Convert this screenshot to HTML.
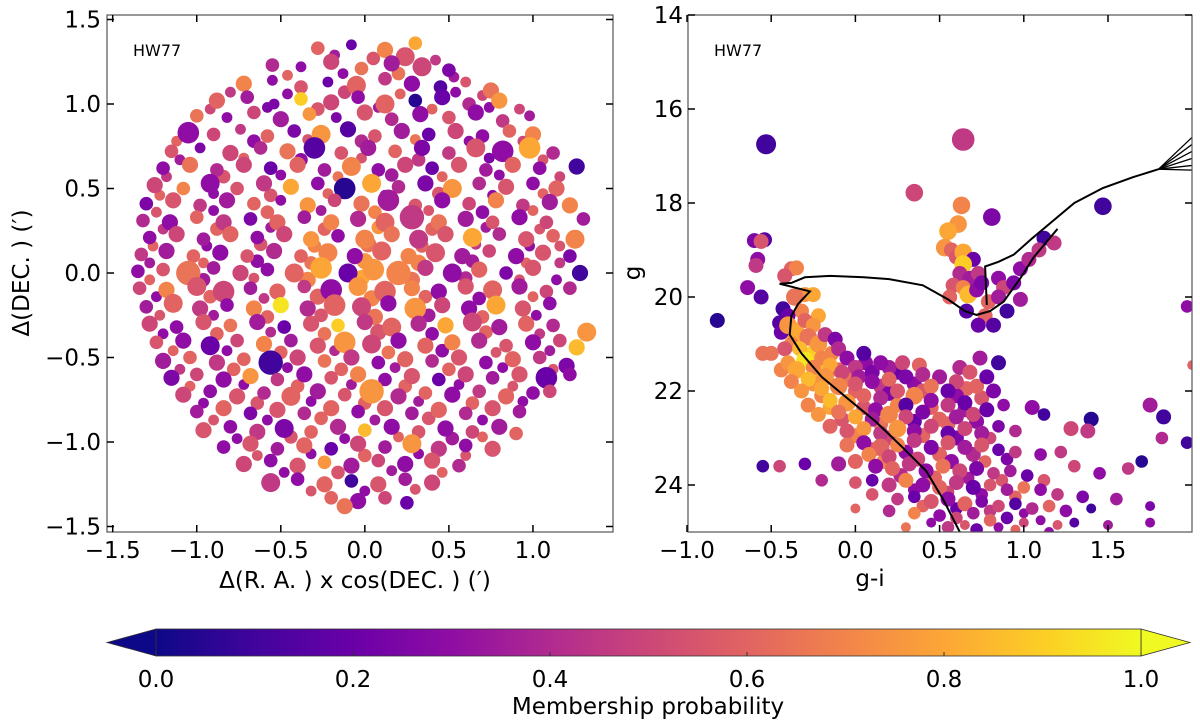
<!DOCTYPE html>
<html><head><meta charset="utf-8">
<style>
html,body{margin:0;padding:0;background:#fff;}
svg{display:block;font-family:"DejaVu Sans","Liberation Sans",sans-serif;}
</style></head>
<body>
<svg id="fig" width="1200" height="723" viewBox="0 0 1200 723" xmlns="http://www.w3.org/2000/svg">
<defs>
<linearGradient id="plasmaGrad" x1="0" x2="1" y1="0" y2="0">
<stop offset="0" stop-color="#0d0887"/><stop offset="0.1" stop-color="#41049d"/><stop offset="0.2" stop-color="#6a00a8"/><stop offset="0.3" stop-color="#8f0da4"/><stop offset="0.4" stop-color="#b12a90"/><stop offset="0.5" stop-color="#cc4778"/><stop offset="0.6" stop-color="#e16462"/><stop offset="0.7" stop-color="#f2844b"/><stop offset="0.8" stop-color="#fca636"/><stop offset="0.9" stop-color="#fcce25"/><stop offset="1" stop-color="#f0f921"/>
</linearGradient>
<clipPath id="clipL"><rect x="107" y="15" width="506" height="517"/></clipPath>
<clipPath id="clipR"><rect x="688" y="15" width="504" height="517"/></clipPath>
</defs>
<g id="left"></g>
<g id="right"></g>
<g id="cbar"></g>
</svg>
<script>
// ---------- data: spatial panel [dRA, dDEC, prob, size] ----------
const spatialPts=[
[-0.28,1.33,0.6,5],[-0.08,1.35,0.2,4],[0.12,1.32,0.7,6],[0.3,1.36,0.8,5],[0.24,1.28,0.55,7],
[-0.55,1.23,0.4,5],[-0.38,1.22,0.3,4],[-0.2,1.25,0.5,6],[-0.02,1.21,0.65,5],[0.16,1.24,0.35,6],[0.34,1.22,0.5,7],[0.5,1.2,0.25,5],
[-0.72,1.12,0.7,6],[-0.55,1.14,0.3,4],[-0.38,1.1,0.55,5],[-0.22,1.13,0.2,4],[-0.05,1.11,0.6,7],[0.12,1.15,0.45,5],[0.28,1.12,0.3,6],[0.45,1.1,0.15,5],[0.6,1.13,0.55,4],[0.75,1.08,0.65,6],
[-0.88,1.02,0.6,6],[-0.7,1.04,0.35,5],[-0.54,1.0,0.25,4],[-0.38,1.03,0.9,5],[-0.2,1.01,0.5,6],[-0.04,1.04,0.3,5],[0.12,1.0,0.6,7],[0.3,1.02,0.05,5],[0.46,1.04,0.2,6],[0.62,1.0,0.4,5],[0.8,1.02,0.75,6],
[-1.0,0.93,0.65,5],[-0.82,0.92,0.3,4],[-0.66,0.95,0.5,5],[-0.5,0.91,0.35,6],[-0.33,0.94,0.75,5],[-0.17,0.92,0.25,4],[0.0,0.95,0.55,6],[0.16,0.91,0.4,5],[0.33,0.94,0.3,6],[0.5,0.92,0.55,5],[0.66,0.95,0.3,6],[0.82,0.9,0.45,5],[0.98,0.93,0.35,4],
[-1.05,0.83,0.3,8],[-0.9,0.82,0.5,5],[-0.74,0.85,0.45,4],[-0.58,0.81,0.6,5],[-0.42,0.84,0.25,5],[-0.26,0.82,0.75,7],[-0.1,0.85,0.15,6],[0.06,0.81,0.55,5],[0.22,0.84,0.35,6],[0.38,0.82,0.2,5],[0.54,0.84,0.5,6],[0.7,0.81,0.3,5],[0.86,0.84,0.6,5],[1.0,0.82,0.7,6],
[-1.15,0.72,0.55,5],[-0.98,0.74,0.25,4],[-0.8,0.71,0.5,6],[-0.62,0.74,0.4,5],[-0.46,0.72,0.65,6],[-0.3,0.74,0.15,8],[-0.14,0.71,0.55,5],[0.02,0.74,0.35,6],[0.18,0.72,0.6,5],[0.34,0.74,0.25,6],[0.5,0.71,0.45,5],[0.66,0.74,0.55,7],[0.82,0.72,0.3,8],[0.98,0.74,0.8,8],[1.12,0.71,0.4,5],
[-1.2,0.62,0.3,5],[-1.04,0.64,0.65,6],[-0.88,0.61,0.4,5],[-0.72,0.64,0.5,6],[-0.56,0.62,0.2,5],[-0.4,0.64,0.6,6],[-0.24,0.61,0.35,5],[-0.08,0.63,0.7,7],[0.08,0.61,0.3,5],[0.24,0.64,0.5,6],[0.4,0.62,0.2,5],[0.56,0.64,0.55,6],[0.72,0.61,0.35,5],[0.88,0.64,0.6,6],[1.04,0.62,0.3,5],[1.26,0.63,0.1,6],
[-1.25,0.52,0.5,6],[-1.08,0.5,0.7,5],[-0.92,0.53,0.3,7],[-0.76,0.5,0.55,5],[-0.6,0.53,0.45,6],[-0.44,0.51,0.8,6],[-0.28,0.53,0.3,5],[-0.12,0.5,0.05,8],[0.04,0.53,0.8,7],[0.2,0.51,0.4,5],[0.36,0.53,0.25,6],[0.52,0.5,0.75,7],[0.68,0.53,0.4,5],[0.84,0.51,0.55,6],[1.0,0.53,0.3,5],[1.14,0.5,0.6,6],
[-1.3,0.41,0.25,5],[-1.14,0.43,0.55,6],[-0.98,0.4,0.45,5],[-0.82,0.43,0.35,6],[-0.66,0.41,0.6,5],[-0.5,0.43,0.3,4],[-0.34,0.4,0.75,6],[-0.18,0.43,0.5,5],[-0.02,0.41,0.65,6],[0.14,0.43,0.35,8],[0.3,0.4,0.55,5],[0.46,0.43,0.3,6],[0.62,0.41,0.5,5],[0.78,0.43,0.7,6],[0.94,0.4,0.45,5],[1.1,0.42,0.35,6],[1.22,0.4,0.7,6],
[-1.32,0.31,0.4,5],[-1.16,0.3,0.3,6],[-1.0,0.33,0.6,5],[-0.84,0.3,0.45,6],[-0.68,0.32,0.25,5],[-0.52,0.3,0.6,6],[-0.36,0.33,0.35,5],[-0.2,0.3,0.7,6],[-0.04,0.32,0.4,6],[0.12,0.3,0.6,7],[0.28,0.33,0.45,9],[0.44,0.3,0.65,6],[0.6,0.32,0.35,6],[0.76,0.3,0.55,5],[0.92,0.33,0.3,6],[1.08,0.3,0.5,5],[1.3,0.32,0.35,5],
[-1.28,0.21,0.3,5],[-1.12,0.23,0.5,6],[-0.96,0.2,0.35,5],[-0.8,0.23,0.6,6],[-0.64,0.21,0.3,5],[-0.48,0.23,0.5,6],[-0.32,0.2,0.75,6],[-0.16,0.22,0.3,5],[0.0,0.2,0.7,7],[0.16,0.23,0.65,6],[0.32,0.2,0.45,7],[0.48,0.23,0.55,6],[0.64,0.21,0.8,7],[0.8,0.23,0.4,5],[0.96,0.2,0.55,6],[1.12,0.22,0.6,5],[1.25,0.2,0.7,7],
[-1.33,0.11,0.45,5],[-1.18,0.13,0.35,6],[-1.02,0.1,0.6,5],[-0.86,0.12,0.3,6],[-0.7,0.1,0.55,5],[-0.54,0.13,0.4,6],[-0.38,0.1,0.6,5],[-0.22,0.12,0.7,7],[-0.06,0.1,0.3,6],[0.1,0.13,0.6,7],[0.26,0.1,0.7,6],[0.42,0.12,0.55,7],[0.58,0.1,0.35,6],[0.74,0.13,0.5,5],[0.9,0.1,0.3,6],[1.06,0.12,0.55,6],[1.22,0.1,0.25,5],
[-1.35,0.01,0.3,5],[-1.2,0.02,0.55,5],[-1.05,0.0,0.65,9],[-0.9,0.03,0.35,5],[-0.74,0.0,0.5,6],[-0.58,0.02,0.3,5],[-0.42,0.0,0.6,7],[-0.26,0.03,0.8,8],[-0.1,0.0,0.2,7],[0.05,0.02,0.75,8],[0.2,0.0,0.7,9],[0.36,0.03,0.45,6],[0.52,0.0,0.3,7],[0.68,0.02,0.6,6],[0.84,0.0,0.25,5],[1.0,0.03,0.55,6],[1.28,0.0,0.1,6],
[-1.34,-0.09,0.5,5],[-1.18,-0.1,0.7,6],[-1.0,-0.08,0.55,7],[-0.84,-0.11,0.5,8],[-0.68,-0.09,0.35,5],[-0.52,-0.11,0.6,6],[-0.36,-0.08,0.45,5],[-0.2,-0.1,0.3,8],[-0.04,-0.08,0.75,7],[0.12,-0.11,0.6,8],[0.28,-0.09,0.7,6],[0.44,-0.11,0.3,6],[0.6,-0.08,0.55,6],[0.76,-0.1,0.6,7],[0.92,-0.08,0.35,6],[1.08,-0.11,0.5,5],[1.22,-0.09,0.4,5],
[-1.3,-0.2,0.35,5],[-1.14,-0.18,0.6,7],[-0.98,-0.21,0.45,6],[-0.82,-0.19,0.3,5],[-0.66,-0.21,0.7,6],[-0.5,-0.19,0.95,6],[-0.34,-0.21,0.4,6],[-0.18,-0.19,0.6,8],[-0.02,-0.2,0.5,7],[0.14,-0.18,0.3,6],[0.3,-0.21,0.75,8],[0.46,-0.19,0.5,6],[0.62,-0.21,0.3,6],[0.78,-0.19,0.8,7],[0.94,-0.21,0.55,6],[1.1,-0.18,0.3,5],
[-1.28,-0.3,0.5,6],[-1.12,-0.32,0.3,5],[-0.96,-0.29,0.55,6],[-0.8,-0.31,0.65,5],[-0.64,-0.29,0.35,6],[-0.48,-0.32,0.2,5],[-0.32,-0.3,0.55,6],[-0.16,-0.31,0.9,5],[0.0,-0.29,0.45,6],[0.16,-0.32,0.6,7],[0.32,-0.3,0.4,6],[0.48,-0.31,0.8,6],[0.64,-0.29,0.5,7],[0.8,-0.32,0.35,6],[0.96,-0.3,0.6,6],[1.12,-0.31,0.4,5],[1.32,-0.35,0.75,7],
[-1.24,-0.41,0.55,5],[-1.08,-0.4,0.3,6],[-0.92,-0.43,0.2,7],[-0.76,-0.4,0.5,5],[-0.6,-0.42,0.7,6],[-0.44,-0.4,0.35,5],[-0.28,-0.43,0.55,6],[-0.12,-0.41,0.75,8],[0.04,-0.42,0.5,7],[0.2,-0.4,0.3,6],[0.36,-0.43,0.6,6],[0.52,-0.41,0.7,6],[0.68,-0.4,0.4,6],[0.84,-0.43,0.55,5],[1.0,-0.41,0.3,6],[1.16,-0.4,0.5,5],[1.26,-0.44,0.85,6],
[-1.2,-0.52,0.35,6],[-1.04,-0.5,0.6,5],[-0.88,-0.53,0.45,6],[-0.72,-0.51,0.6,5],[-0.56,-0.53,0.1,9],[-0.4,-0.5,0.5,6],[-0.24,-0.52,0.65,5],[-0.08,-0.5,0.45,6],[0.08,-0.53,0.3,5],[0.24,-0.51,0.6,6],[0.4,-0.52,0.4,5],[0.56,-0.5,0.55,6],[0.72,-0.53,0.3,5],[0.88,-0.51,0.6,6],[1.04,-0.5,0.45,5],[1.2,-0.55,0.25,6],
[-1.15,-0.62,0.25,6],[-1.0,-0.6,0.5,5],[-0.84,-0.63,0.3,6],[-0.68,-0.61,0.75,6],[-0.52,-0.63,0.45,5],[-0.36,-0.6,0.3,6],[-0.2,-0.62,0.55,5],[-0.04,-0.6,0.7,6],[0.12,-0.63,0.3,5],[0.28,-0.61,0.55,6],[0.44,-0.63,0.2,5],[0.6,-0.6,0.5,6],[0.76,-0.62,0.35,5],[0.92,-0.6,0.55,6],[1.08,-0.62,0.2,8],[1.22,-0.6,0.3,5],
[-1.08,-0.72,0.5,6],[-0.92,-0.7,0.3,5],[-0.76,-0.73,0.55,6],[-0.6,-0.71,0.4,5],[-0.44,-0.73,0.6,7],[-0.28,-0.7,0.35,6],[-0.12,-0.72,0.55,5],[0.04,-0.7,0.75,9],[0.2,-0.73,0.4,6],[0.36,-0.71,0.6,5],[0.52,-0.72,0.3,6],[0.68,-0.7,0.45,5],[0.84,-0.73,0.6,6],[1.0,-0.71,0.3,5],[1.1,-0.7,0.5,5],
[-1.0,-0.82,0.35,5],[-0.84,-0.8,0.6,6],[-0.68,-0.83,0.25,5],[-0.52,-0.81,0.55,6],[-0.36,-0.83,0.4,5],[-0.2,-0.8,0.6,6],[-0.04,-0.82,0.3,5],[0.12,-0.8,0.55,6],[0.28,-0.83,0.35,5],[0.44,-0.81,0.6,6],[0.6,-0.83,0.4,5],[0.76,-0.8,0.55,6],[0.92,-0.82,0.35,5],
[-0.96,-0.93,0.55,6],[-0.8,-0.91,0.3,5],[-0.64,-0.94,0.45,6],[-0.48,-0.92,0.25,7],[-0.32,-0.94,0.6,5],[-0.16,-0.91,0.4,6],[0.0,-0.93,0.85,5],[0.16,-0.91,0.3,6],[0.32,-0.94,0.55,5],[0.48,-0.92,0.3,6],[0.64,-0.94,0.5,5],[0.8,-0.91,0.35,6],[0.9,-0.95,0.6,5],
[-0.84,-1.03,0.3,5],[-0.68,-1.01,0.55,6],[-0.52,-1.04,0.35,5],[-0.36,-1.02,0.6,6],[-0.2,-1.04,0.2,5],[-0.04,-1.01,0.5,6],[0.12,-1.03,0.35,5],[0.28,-1.01,0.75,7],[0.44,-1.04,0.45,6],[0.6,-1.02,0.3,5],[0.76,-1.04,0.55,6],
[-0.72,-1.13,0.5,6],[-0.56,-1.11,0.3,5],[-0.4,-1.14,0.55,6],[-0.24,-1.12,0.75,5],[-0.08,-1.14,0.35,6],[0.08,-1.11,0.5,5],[0.24,-1.13,0.3,6],[0.4,-1.11,0.55,6],[0.56,-1.14,0.4,5],
[-0.56,-1.24,0.45,7],[-0.4,-1.22,0.3,5],[-0.24,-1.25,0.6,6],[-0.08,-1.23,0.1,5],[0.08,-1.25,0.55,6],[0.24,-1.22,0.35,5],[0.4,-1.24,0.5,6],
[-0.2,-1.33,0.6,5],[-0.04,-1.35,0.3,6],[0.12,-1.33,0.5,5],[0.25,-1.36,0.2,5],[-0.12,-1.38,0.65,6]
];
// extra fainter stars interleaved between the rows
const spatialExtra=[
[-0.18,1.29,0.35,4],[0.05,1.27,0.55,5],[0.42,1.26,0.45,4],[-0.46,1.17,0.6,4],[-0.13,1.18,0.3,4],[0.2,1.18,0.65,5],[0.53,1.16,0.35,4],
[-0.8,1.07,0.45,4],[-0.46,1.06,0.3,4],[-0.12,1.07,0.5,5],[0.21,1.06,0.6,4],[0.54,1.07,0.3,4],[0.7,1.05,0.5,4],
[-0.92,0.97,0.5,4],[-0.58,0.98,0.25,4],[-0.28,0.97,0.55,5],[0.08,0.98,0.35,4],[0.4,0.97,0.6,4],[0.74,0.98,0.3,4],[0.92,0.97,0.5,4],
[-1.12,0.78,0.6,4],[-0.66,0.78,0.3,5],[-0.34,0.79,0.55,4],[-0.02,0.78,0.4,5],[0.3,0.79,0.65,4],[0.62,0.78,0.3,4],[0.94,0.78,0.5,4],
[-1.1,0.67,0.35,4],[-0.72,0.68,0.6,4],[-0.38,0.67,0.3,5],[-0.02,0.68,0.55,4],[0.32,0.67,0.45,5],[0.74,0.68,0.25,4],[1.06,0.67,0.55,4],
[-1.18,0.57,0.45,4],[-0.84,0.57,0.55,5],[-0.5,0.58,0.3,4],[-0.16,0.57,0.65,4],[0.16,0.58,0.35,5],[0.46,0.57,0.6,4],[0.8,0.58,0.3,4],[1.16,0.57,0.5,4],
[-1.22,0.46,0.6,4],[-0.9,0.47,0.3,4],[-0.56,0.46,0.55,5],[-0.22,0.47,0.6,4],[0.12,0.46,0.3,4],[0.44,0.47,0.55,5],[0.76,0.46,0.3,4],[1.06,0.47,0.6,4],
[-1.24,0.36,0.55,4],[-0.9,0.37,0.3,4],[-0.58,0.36,0.6,5],[-0.26,0.37,0.35,4],[0.06,0.36,0.7,5],[0.38,0.37,0.55,4],[0.7,0.36,0.3,5],[1.0,0.37,0.6,4],
[-1.2,0.26,0.45,4],[-0.88,0.26,0.6,5],[-0.56,0.27,0.35,4],[-0.24,0.26,0.6,5],[0.08,0.27,0.75,5],[0.4,0.26,0.6,5],[0.72,0.27,0.35,4],[1.04,0.26,0.55,4],
[-1.26,0.16,0.6,4],[-0.94,0.16,0.3,4],[-0.62,0.17,0.55,5],[-0.3,0.16,0.7,5],[0.02,0.17,0.65,6],[0.34,0.16,0.6,5],[0.66,0.17,0.45,4],[0.98,0.16,0.3,4],[1.16,0.16,0.55,4],
[-1.28,0.06,0.35,4],[-0.96,0.06,0.6,4],[-0.64,0.07,0.3,5],[-0.32,0.06,0.65,5],[0.0,0.07,0.75,6],[0.32,0.06,0.7,6],[0.64,0.07,0.35,5],[0.96,0.06,0.6,4],[1.16,0.06,0.45,4],
[-1.28,-0.04,0.6,4],[-0.96,-0.04,0.35,5],[-0.66,-0.03,0.55,4],[-0.34,-0.04,0.7,6],[-0.02,-0.03,0.8,6],[0.28,-0.04,0.65,6],[0.6,-0.03,0.4,5],[0.92,-0.04,0.55,4],[1.14,-0.04,0.3,4],
[-1.24,-0.14,0.3,4],[-0.92,-0.14,0.6,5],[-0.6,-0.15,0.45,4],[-0.28,-0.14,0.6,6],[0.04,-0.15,0.7,6],[0.36,-0.14,0.6,5],[0.68,-0.15,0.3,5],[1.0,-0.14,0.6,4],
[-1.22,-0.25,0.55,4],[-0.9,-0.25,0.35,4],[-0.58,-0.26,0.6,5],[-0.26,-0.25,0.55,5],[0.06,-0.26,0.65,6],[0.38,-0.25,0.35,5],[0.7,-0.26,0.6,5],[1.02,-0.25,0.3,4],
[-1.2,-0.36,0.3,4],[-0.88,-0.36,0.6,5],[-0.56,-0.35,0.4,4],[-0.24,-0.36,0.65,5],[0.08,-0.35,0.55,6],[0.4,-0.36,0.3,5],[0.72,-0.35,0.6,5],[1.04,-0.36,0.45,4],
[-1.14,-0.46,0.6,4],[-0.82,-0.46,0.3,4],[-0.5,-0.47,0.6,5],[-0.18,-0.46,0.4,4],[0.14,-0.47,0.65,5],[0.46,-0.46,0.3,5],[0.78,-0.47,0.55,4],[1.1,-0.46,0.35,4],
[-1.1,-0.57,0.45,4],[-0.78,-0.57,0.6,5],[-0.46,-0.56,0.3,4],[-0.14,-0.57,0.6,5],[0.18,-0.56,0.35,4],[0.5,-0.57,0.6,5],[0.82,-0.56,0.3,4],[1.12,-0.57,0.55,4],
[-1.04,-0.67,0.6,4],[-0.72,-0.66,0.3,4],[-0.4,-0.67,0.6,5],[-0.08,-0.66,0.35,4],[0.24,-0.67,0.6,5],[0.56,-0.66,0.3,4],[0.88,-0.67,0.55,4],
[-0.96,-0.77,0.3,4],[-0.64,-0.77,0.55,5],[-0.32,-0.76,0.3,4],[0.0,-0.77,0.6,5],[0.32,-0.76,0.35,4],[0.64,-0.77,0.6,5],[0.94,-0.76,0.3,4],
[-0.9,-0.87,0.55,4],[-0.58,-0.87,0.3,4],[-0.26,-0.86,0.6,5],[0.06,-0.87,0.35,4],[0.38,-0.86,0.55,5],[0.7,-0.87,0.3,4],
[-0.76,-0.98,0.3,4],[-0.44,-0.97,0.55,5],[-0.12,-0.98,0.3,4],[0.2,-0.97,0.6,4],[0.52,-0.98,0.35,5],[0.7,-0.97,0.6,4],
[-0.64,-1.08,0.55,4],[-0.32,-1.07,0.3,4],[0.0,-1.08,0.6,5],[0.32,-1.07,0.3,4],[0.6,-1.08,0.55,4],
[-0.48,-1.18,0.3,4],[-0.16,-1.18,0.55,5],[0.16,-1.17,0.35,4],[0.46,-1.18,0.6,4],
[-0.32,-1.29,0.55,4],[0.0,-1.29,0.3,4],[0.3,-1.28,0.55,4]
];
// ---------- data: CMD panel [g-i, g, prob, size] ----------
const cmdPts=[
[-0.53,16.75,0.1,8],[0.64,16.65,0.45,9],[0.35,17.78,0.5,7],[0.63,18.05,0.7,7],[0.61,18.45,0.75,7],[0.55,18.6,0.8,7],[0.53,18.95,0.75,7],[0.81,18.3,0.25,7],[1.47,18.07,0.1,7],
[-0.6,18.8,0.25,6],[-0.54,18.78,0.15,6],[-0.56,18.82,0.55,6],[-0.58,19.2,0.3,6],[-0.59,19.33,0.45,6],[-0.64,19.8,0.3,6],[-0.56,20.0,0.15,6],[-0.82,20.5,0.05,6],[1.97,20.2,0.3,5],[2.0,21.45,0.6,4],
[-0.38,19.4,0.6,6],[-0.35,19.38,0.7,6],[-0.42,19.55,0.55,6],[-0.3,19.95,0.75,6],[-0.36,20.0,0.65,7],[-0.25,19.95,0.8,6],[-0.43,20.25,0.1,6],[-0.4,20.4,0.2,6],
[0.57,19.0,0.6,6],[0.6,19.15,0.55,6],[0.64,19.05,0.8,7],[0.7,19.2,0.2,6],[0.64,19.3,0.9,7],[0.62,19.5,0.4,6],[0.68,19.6,0.35,6],[0.73,19.5,0.45,6],[0.58,19.75,0.55,6],[0.64,19.8,0.7,6],[0.67,19.95,0.85,7],[0.72,19.85,0.3,6],[0.75,19.7,0.25,6],[0.85,19.6,0.3,6],[0.88,19.8,0.5,6],[0.94,19.7,0.25,6],[0.79,20.1,0.6,6],[0.85,20.0,0.35,6],[0.56,20.0,0.6,6],[0.66,20.3,0.15,6],[0.77,20.4,0.6,6],[0.9,20.3,0.1,6],[0.73,20.6,0.2,6],[0.82,20.6,0.15,6],[0.98,19.4,0.3,6],[1.03,19.2,0.4,6],[1.12,18.75,0.1,6],[1.18,18.85,0.45,6],[1.09,19.0,0.45,6],[0.98,20.05,0.35,6],
[-0.45,20.55,0.15,6],[-0.44,20.75,0.2,6],[-0.4,20.6,0.75,7],[-0.35,20.7,0.8,6],[-0.3,20.5,0.6,6],[-0.25,20.6,0.75,6],[-0.28,20.85,0.65,7],[-0.38,21.0,0.7,6],[-0.42,21.1,0.55,6],[-0.33,21.1,0.85,6],[-0.22,21.0,0.75,7],[-0.18,20.8,0.45,6],[-0.12,20.9,0.25,6],[-0.1,21.1,0.4,6],[-0.2,21.3,0.7,6],[-0.3,21.35,0.95,7],[-0.4,21.4,0.75,6],[-0.35,21.55,0.8,7],[-0.25,21.5,0.7,6],[-0.15,21.45,0.8,6],[-0.05,21.3,0.3,6],[0.05,21.2,0.15,6],[0.0,21.5,0.45,6],[-0.5,21.2,0.65,6],[-0.55,21.2,0.65,6],
[-0.38,21.8,0.7,6],[-0.28,21.75,0.85,6],[-0.18,21.7,0.75,7],[-0.08,21.6,0.5,6],[0.02,21.7,0.35,6],[0.1,21.6,0.25,6],[0.2,21.5,0.35,6],[0.28,21.4,0.5,6],[0.38,21.45,0.6,6],[0.15,21.4,0.3,6],[-0.32,22.0,0.75,6],[-0.2,21.95,0.8,6],[-0.1,21.9,0.7,7],[0.0,21.85,0.55,6],[0.1,21.8,0.3,6],[0.2,21.75,0.6,6],[0.3,21.7,0.25,6],[0.4,21.65,0.4,6],[0.5,21.7,0.35,6],[0.6,21.8,0.5,6],[0.45,21.9,0.65,6],[0.55,22.0,0.2,6],[0.68,21.6,0.55,6],[0.72,21.9,0.6,6],[0.78,21.7,0.2,6],[0.82,22.0,0.25,6],[0.85,21.4,0.1,6],[0.74,21.3,0.35,6],
[-0.28,22.3,0.7,6],[-0.15,22.2,0.85,6],[-0.05,22.25,0.75,7],[0.05,22.1,0.6,6],[0.15,22.15,0.4,6],[0.25,22.0,0.55,6],[0.35,22.1,0.7,7],[0.45,22.2,0.3,6],[0.55,22.3,0.45,6],[0.65,22.25,0.2,6],[0.3,22.3,0.15,6],[0.12,22.4,0.3,6],[-0.22,22.5,0.75,6],[-0.1,22.45,0.65,6],[0.0,22.55,0.8,6],[0.1,22.6,0.35,6],[0.2,22.5,0.7,7],[0.3,22.55,0.5,6],[0.4,22.45,0.25,6],[0.5,22.6,0.6,6],[0.6,22.55,0.35,6],[0.7,22.5,0.5,6],[0.78,22.4,0.2,6],[0.88,22.3,0.3,5],[1.05,22.35,0.3,6],[1.12,22.5,0.1,5],[1.4,22.6,0.05,6],
[-0.15,22.75,0.6,6],[-0.05,22.85,0.55,6],[0.05,22.8,0.75,6],[0.15,22.9,0.45,6],[0.25,22.8,0.75,7],[0.35,22.85,0.3,6],[0.45,22.75,0.5,6],[0.55,22.9,0.2,6],[0.65,22.8,0.5,6],[0.75,22.9,0.35,6],[0.85,22.75,0.25,5],[0.95,22.85,0.4,5],[1.28,22.8,0.5,6],[1.38,22.85,0.45,6],
[-0.05,23.15,0.65,6],[0.05,23.1,0.3,6],[0.15,23.2,0.6,7],[0.25,23.15,0.7,6],[0.35,23.05,0.45,6],[0.45,23.2,0.25,6],[0.55,23.1,0.55,6],[0.65,23.2,0.35,6],[0.75,23.15,0.55,6],[0.85,23.25,0.2,5],[0.95,23.3,0.45,5],[1.1,23.35,0.3,5],[1.22,23.3,0.45,5],[0.2,23.4,0.5,6],[0.08,23.35,0.7,6],[0.0,23.5,0.6,6],[-0.1,23.55,0.35,6],[-0.3,23.55,0.2,5],[-0.55,23.6,0.1,5],[-0.45,23.6,0.5,5],
[0.12,23.6,0.3,6],[0.22,23.65,0.6,6],[0.32,23.55,0.45,6],[0.42,23.7,0.3,6],[0.52,23.6,0.65,6],[0.62,23.7,0.5,6],[0.72,23.65,0.25,6],[0.82,23.75,0.45,5],[0.92,23.7,0.35,5],[1.02,23.8,0.2,5],[1.12,23.9,0.55,5],[1.3,23.6,0.5,5],[1.45,23.75,0.3,5],[1.62,23.65,0.45,5],[1.7,23.5,0.05,5],[1.97,23.1,0.1,5],[1.82,23.0,0.4,5],[1.83,22.55,0.1,6],[1.75,22.3,0.35,6],
[-0.2,23.9,0.4,5],[0.0,23.95,0.55,5],[0.1,23.9,0.2,5],[0.2,24.0,0.45,6],[0.3,23.9,0.7,6],[0.4,24.0,0.3,6],[0.5,24.05,0.6,6],[0.6,23.95,0.45,6],[0.7,24.05,0.2,6],[0.8,24.0,0.55,5],[0.9,24.1,0.35,5],[1.0,24.05,0.65,5],[1.1,24.1,0.3,5],[1.2,24.2,0.45,5],[1.35,24.25,0.25,5],[1.55,24.3,0.35,5],
[0.1,24.2,0.55,5],[0.25,24.3,0.45,5],[0.35,24.25,0.2,5],[0.45,24.35,0.55,6],[0.55,24.3,0.3,6],[0.65,24.4,0.6,6],[0.75,24.35,0.25,5],[0.85,24.45,0.5,5],[0.95,24.4,0.15,5],[1.05,24.5,0.4,5],[1.15,24.45,0.6,5],[1.25,24.55,0.3,5],[1.4,24.5,0.1,4],[1.75,24.45,0.25,4],
[0.0,24.5,0.6,4],[0.2,24.55,0.4,5],[0.35,24.6,0.7,5],[0.5,24.65,0.3,5],[0.6,24.7,0.5,5],[0.7,24.6,0.35,5],[0.8,24.75,0.6,5],[0.9,24.7,0.2,5],[1.0,24.8,0.5,4],[1.1,24.75,0.3,4],[1.2,24.85,0.55,4],[1.3,24.8,0.15,4],[1.5,24.85,0.35,4],[1.75,24.8,0.3,4],[0.3,24.9,0.65,4],[0.55,24.9,0.45,5],[0.72,24.95,0.2,5],[0.95,24.95,0.6,4],[1.15,25.0,0.3,4]
];
// extra stars filling the dense main-sequence band
const cmdExtra=[
[-0.32,20.3,0.7,6],[-0.22,20.4,0.8,6],[-0.36,20.85,0.8,6],[-0.26,21.2,0.9,6],[-0.14,21.2,0.7,6],[-0.44,21.55,0.7,6],[-0.22,21.6,0.85,6],[-0.1,21.55,0.6,6],[0.06,21.4,0.3,6],[0.25,21.6,0.2,6],
[-0.25,21.85,0.75,6],[-0.05,21.75,0.65,6],[0.15,21.9,0.45,6],[0.35,21.85,0.3,6],[0.62,21.5,0.4,6],[0.66,21.95,0.6,6],[-0.2,22.1,0.7,6],[0.0,22.0,0.6,6],[0.2,22.05,0.25,6],[0.4,22.0,0.55,6],[0.6,22.1,0.3,6],[0.75,22.15,0.55,6],
[-0.15,22.35,0.8,6],[0.05,22.35,0.55,6],[0.25,22.3,0.7,6],[0.45,22.35,0.6,6],[0.65,22.4,0.35,6],[-0.08,22.6,0.55,6],[0.15,22.7,0.65,6],[0.35,22.65,0.2,6],[0.55,22.7,0.6,6],[0.72,22.65,0.3,6],
[0.0,22.95,0.7,6],[0.2,23.0,0.5,6],[0.4,22.95,0.6,6],[0.6,23.0,0.25,6],[0.8,23.0,0.5,5],[0.1,23.25,0.55,6],[0.3,23.3,0.3,6],[0.5,23.35,0.6,6],[0.7,23.35,0.4,6],[0.9,23.45,0.25,5],
[0.17,23.5,0.7,6],[0.37,23.45,0.5,6],[0.57,23.5,0.3,6],[0.77,23.5,0.6,5],[0.27,23.8,0.4,6],[0.47,23.85,0.6,6],[0.67,23.85,0.35,5],[0.87,23.9,0.55,5],[0.35,24.1,0.3,5],[0.55,24.15,0.5,5],[0.75,24.2,0.3,5],[0.95,24.25,0.6,5],
[0.4,24.45,0.6,5],[0.6,24.5,0.2,5],[0.8,24.55,0.45,5],[1.0,24.6,0.3,4],[0.45,24.8,0.3,4],[0.65,24.85,0.55,4],[0.85,24.9,0.3,4]
];
// isochrone tracks [g-i, g]
const isoMain=[[0.62,25.0],[0.52,24.3],[0.42,23.7],[0.28,23.2],[0.12,22.65],[-0.05,22.15],[-0.2,21.7],[-0.32,21.2],[-0.39,20.8],[-0.38,20.4],[-0.34,20.15],[-0.27,19.88],[-0.38,19.78],[-0.45,19.72],[-0.38,19.7],[-0.3,19.58],[-0.15,19.55],[0.05,19.58],[0.2,19.62],[0.4,19.75],[0.55,20.05],[0.65,20.3],[0.72,20.38],[0.8,20.3],[0.88,20.1],[0.98,19.6],[1.06,19.15],[1.2,18.55]];
const isoRGB=[[0.78,20.17],[0.77,19.35],[0.85,19.25],[0.94,19.1],[1.05,18.75],[1.15,18.45],[1.3,18.0],[1.47,17.68],[1.65,17.45],[1.8,17.28]];
const isoTips=[16.6,16.75,16.9,17.05,17.2,17.3];
const cbTicks=[0.0,0.2,0.4,0.6,0.8,1.0];

// ---------- helpers ----------
const NS="http://www.w3.org/2000/svg";
const plasmaStops=["#0d0887","#41049d","#6a00a8","#8f0da4","#b12a90","#cc4778","#e16462","#f2844b","#fca636","#fcce25","#f0f921"];
function hex(h){return [parseInt(h.slice(1,3),16),parseInt(h.slice(3,5),16),parseInt(h.slice(5,7),16)];}
function plasma(p){p=Math.max(0,Math.min(1,p));const f=p*10,i=Math.min(9,Math.floor(f)),t=f-i;const a=hex(plasmaStops[i]),b=hex(plasmaStops[i+1]);return "rgb("+a.map((v,k)=>Math.round(v+(b[k]-v)*t)).join(",")+")";}
function mk(tag,attrs,parent){const e=document.createElementNS(NS,tag);for(const k in attrs)e.setAttribute(k,attrs[k]);parent.appendChild(e);return e;}
function txt(s,attrs,parent){const e=mk("text",attrs,parent);e.textContent=s;return e;}

const xL=v=>112.7+(v+1.5)*168.1, yL=v=>273-v*169;
const xR=v=>687+(v+1)*168.4, yR=v=>15+(v-14)*47;
const xC=v=>156+v*985;
const SCALE_L=1.35, SCALE_R=1.25;
const FS=23;

// ---------- left panel ----------
const L=document.getElementById("left");
const lDots=mk("g",{"clip-path":"url(#clipL)"},L);


spatialExtra.concat(spatialPts).forEach(d=>{const c=mk("circle",{cx:xL(d[0]).toFixed(1),cy:yL(d[1]).toFixed(1),r:(d[3]*SCALE_L).toFixed(1),fill:plasma(d[2])},lDots);

});
const lf=mk("rect",{x:107,y:15,width:506,height:517,fill:"none",stroke:"#555","stroke-width":1.2},L);


[-1.5,-1.0,-0.5,0.0,0.5,1.0].forEach(v=>{const x=xL(v);
mk("line",{x1:x,x2:x,y1:532,y2:525,stroke:"#000","stroke-width":1.5},L);
mk("line",{x1:x,x2:x,y1:15,y2:22,stroke:"#000","stroke-width":1.5},L);
const t=txt((v<0?"\u2212":"")+Math.abs(v).toFixed(1),{x:x,y:558,"font-size":FS,"text-anchor":"middle"},L);

});
[-1.5,-1.0,-0.5,0.0,0.5,1.0,1.5].forEach(v=>{const y=yL(v);
mk("line",{x1:107,x2:114,y1:y,y2:y,stroke:"#000","stroke-width":1.5},L);
mk("line",{x1:613,x2:606,y1:y,y2:y,stroke:"#000","stroke-width":1.5},L);
const t=txt((v<0?"\u2212":"")+Math.abs(v).toFixed(1),{x:101,y:y+8,"font-size":FS,"text-anchor":"end"},L);

});
const lt=txt("HW77",{x:133,y:56,"font-size":16},L);


const lxl=txt("\u0394(R. A. ) x cos(DEC. ) (\u2032)",{x:355,y:588,"font-size":FS,"text-anchor":"middle"},L);


const lyl=txt("\u0394(DEC. ) (\u2032)",{x:0,y:0,"font-size":FS,"text-anchor":"middle",transform:"translate(29,273) rotate(-90)"},L);



// ---------- right panel ----------
const R=document.getElementById("right");
const rDots=mk("g",{"clip-path":"url(#clipR)"},R);


cmdExtra.concat(cmdPts).forEach(d=>{const c=mk("circle",{cx:xR(d[0]).toFixed(1),cy:yR(d[1]).toFixed(1),r:(d[3]*SCALE_R).toFixed(1),fill:plasma(d[2])},rDots);

});
const iso=mk("g",{"clip-path":"url(#clipR)",fill:"none",stroke:"#000","stroke-width":2},R);


mk("polyline",{points:isoMain.map(p=>xR(p[0]).toFixed(1)+","+yR(p[1]).toFixed(1)).join(" ")},iso);
mk("polyline",{points:isoRGB.map(p=>xR(p[0]).toFixed(1)+","+yR(p[1]).toFixed(1)).join(" ")},iso);
isoTips.forEach(g=>{mk("polyline",{points:[isoRGB[isoRGB.length-1],[2.0,g]].map(p=>xR(p[0]).toFixed(1)+","+yR(p[1]).toFixed(1)).join(" "),"stroke-width":1.3},iso);});
const rf=mk("rect",{x:688,y:15,width:504,height:517,fill:"none",stroke:"#555","stroke-width":1.2},R);


[-1.0,-0.5,0.0,0.5,1.0,1.5].forEach(v=>{const x=xR(v);
mk("line",{x1:x,x2:x,y1:532,y2:525,stroke:"#000","stroke-width":1.5},R);
mk("line",{x1:x,x2:x,y1:15,y2:22,stroke:"#000","stroke-width":1.5},R);
const t=txt((v<0?"\u2212":"")+Math.abs(v).toFixed(1),{x:x,y:558,"font-size":FS,"text-anchor":"middle"},R);

});
[14,16,18,20,22,24].forEach(v=>{const y=yR(v);
mk("line",{x1:688,x2:695,y1:y,y2:y,stroke:"#000","stroke-width":1.5},R);
mk("line",{x1:1192,x2:1185,y1:y,y2:y,stroke:"#000","stroke-width":1.5},R);
const t=txt(String(v),{x:683,y:y+8,"font-size":FS,"text-anchor":"end"},R);

});
const rt=txt("HW77",{x:714,y:56,"font-size":16},R);


const rxl=txt("g-i",{x:870,y:586,"font-size":FS,"text-anchor":"middle"},R);


const ryl=txt("g",{x:0,y:0,"font-size":FS,"text-anchor":"middle",transform:"translate(640,273) rotate(-90)"},R);



// ---------- colorbar ----------
const C=document.getElementById("cbar");
const lowArrow=mk("polygon",{points:"107,642.5 156,629 156,656",fill:"#0d0887",stroke:"#333","stroke-width":0.8},C);


const highArrow=mk("polygon",{points:"1190,642.5 1141,629 1141,656",fill:"#f0f921",stroke:"#333","stroke-width":0.8},C);


const bar=mk("rect",{x:156,y:629,width:985,height:27,fill:"url(#plasmaGrad)",stroke:"#333","stroke-width":0.8},C);


cbTicks.forEach(v=>{const x=xC(v);
mk("line",{x1:x,x2:x,y1:656,y2:652,stroke:"#333","stroke-width":1},C);
const t=txt(v.toFixed(1),{x:x,y:687,"font-size":FS,"text-anchor":"middle"},C);

});
const ct=txt("Membership probability",{x:648,y:714,"font-size":FS,"text-anchor":"middle"},C);


</script>
</body></html>
